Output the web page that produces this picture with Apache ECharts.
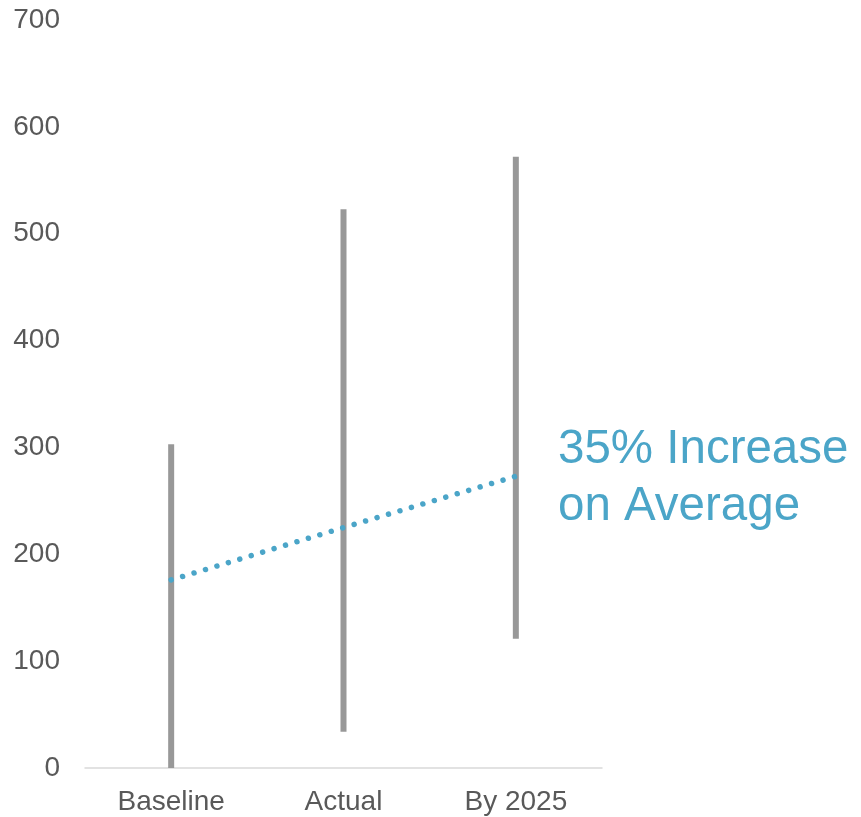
<!DOCTYPE html>
<html>
<head>
<meta charset="utf-8">
<script src="https://cdn.jsdelivr.net/npm/echarts@6/dist/echarts.min.js"></script>
<style>
  html, body { margin: 0; padding: 0; background: #fff; }
  #chart { width: 861px; height: 817px; }
</style>
</head>
<body>
<div id="chart"></div>
<script>
  // 分类和数据
  var categories = ['Baseline', 'Actual', 'By 2025'];
  var lowValues = [0, 34, 121];
  var highValues = [303, 523, 572];
  var avgValues = [176, 225, 273];
  var yTicks = [0, 100, 200, 300, 400, 500, 600, 700];
  var noteText = '35% Increase\non Average';

  var chart = echarts.init(document.getElementById('chart'));

  // 区间 = 高值 - 低值，低值部分透明叠加
  var rangeValues = highValues.map(function (h, i) { return h - lowValues[i]; });

  var option = {
    animation: false,
    textStyle: { fontFamily: 'Liberation Sans, Arial, sans-serif' },
    grid: { left: 85, right: 259, top: 20, bottom: 49 },
    xAxis: {
      type: 'category',
      data: categories,
      axisLine: { lineStyle: { color: '#d9d9d9', width: 1.5 } },
      axisTick: { show: false },
      axisLabel: { color: '#595959', fontSize: 28, margin: 20 }
    },
    yAxis: {
      type: 'value',
      min: yTicks[0],
      max: yTicks[yTicks.length - 1],
      interval: 100,
      splitLine: { show: false },
      axisLine: { show: false },
      axisTick: { show: false },
      axisLabel: { color: '#595959', fontSize: 28, margin: 25 }
    },
    series: [
      {
        type: 'bar',
        stack: 'range',
        barWidth: 6,
        itemStyle: { color: 'transparent' },
        data: lowValues
      },
      {
        type: 'bar',
        stack: 'range',
        barWidth: 6,
        itemStyle: { color: '#989898' },
        data: rangeValues
      },
      {
        type: 'line',
        data: avgValues,
        symbol: 'none',
        lineStyle: { color: '#4ba5c8', width: 5.5, type: [0.01, 11.94], cap: 'round' },
        z: 5
      }
    ],
    graphic: [{
      type: 'text',
      left: 558,
      top: 421,
      style: {
        text: noteText,
        fill: '#4ba5c8',
        font: '47.5px Liberation Sans, Arial, sans-serif',
        lineHeight: 57
      }
    }]
  };
  chart.setOption(option);
</script>
</body>
</html>
